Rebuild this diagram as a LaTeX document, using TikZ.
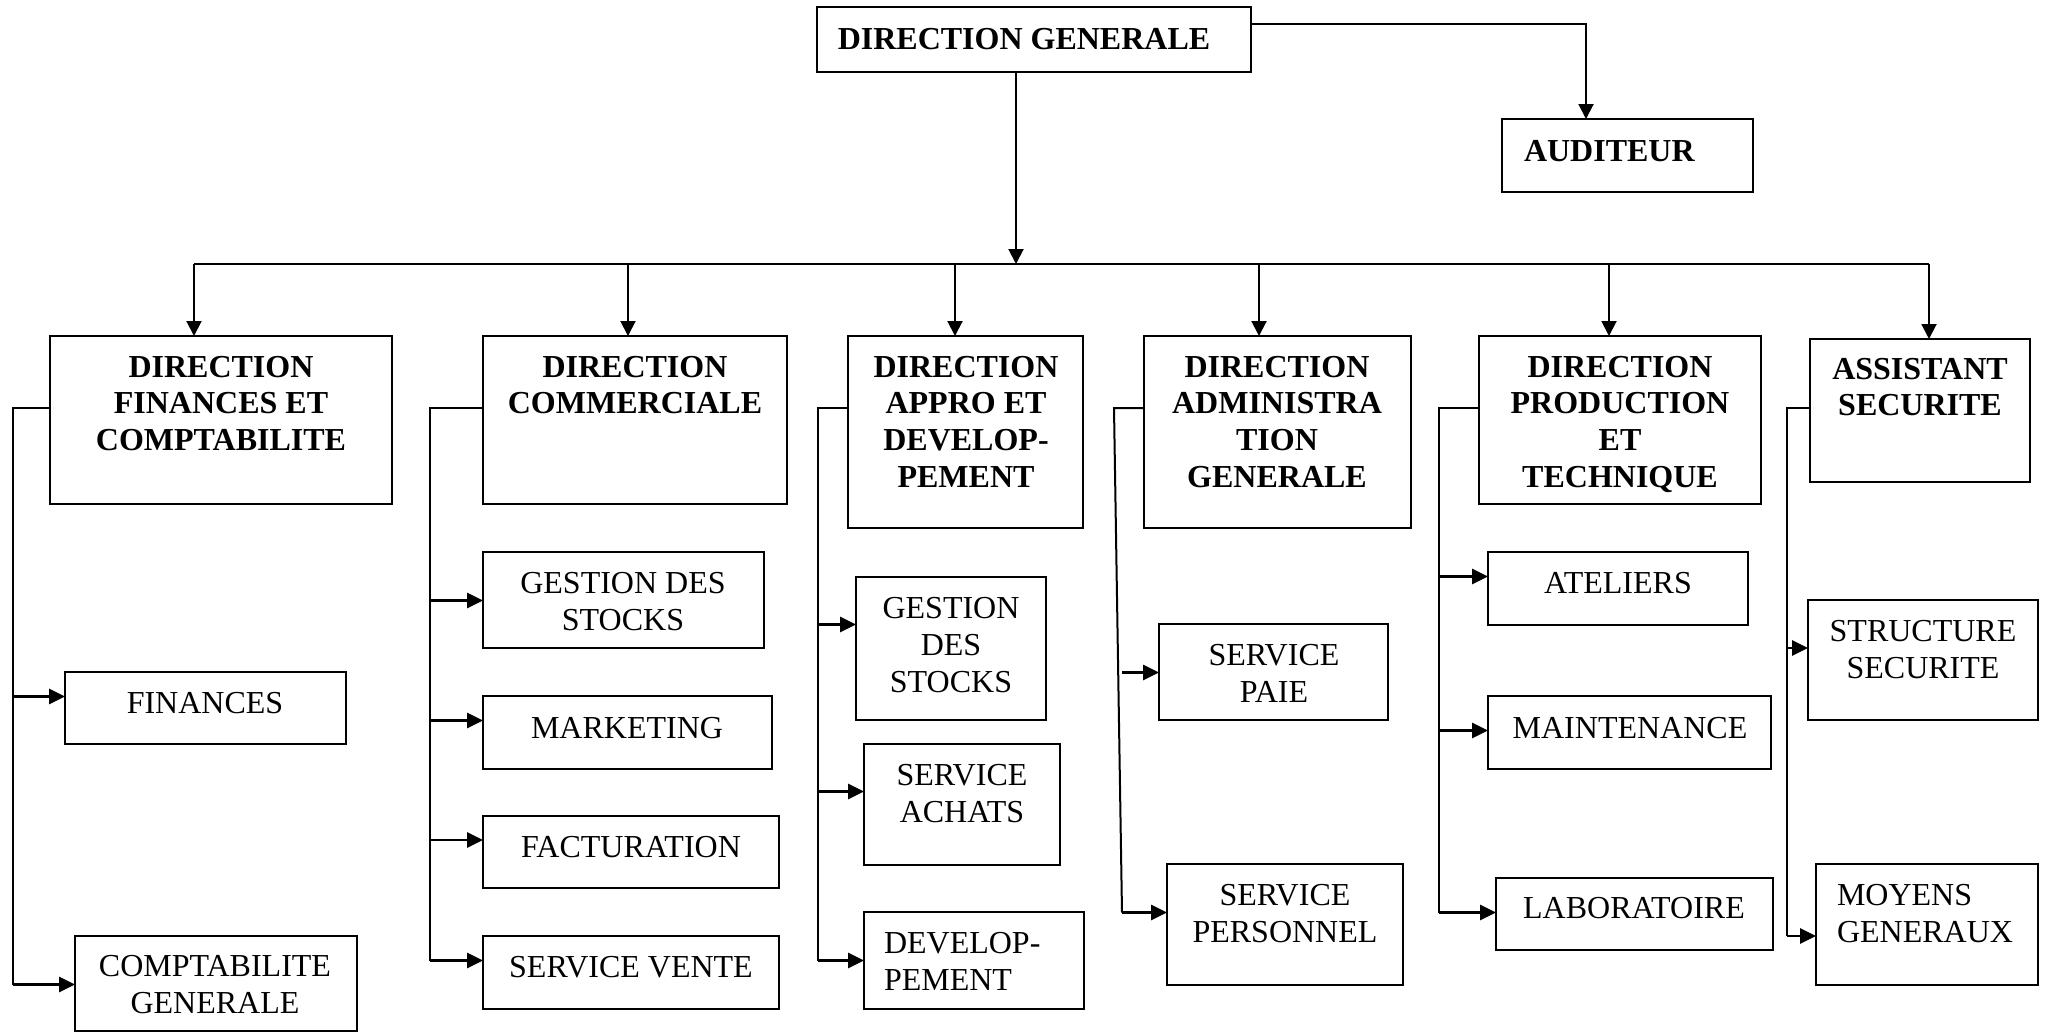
\documentclass[tikz,border=0pt]{standalone}
\usepackage{fontspec}
\setmainfont{Liberation Serif}
\usetikzlibrary{arrows.meta,calc}

\tikzset{
  unitbox/.style={draw, line width=1pt, inner sep=0pt, outer sep=0pt},
  lbl/.style={inner sep=0pt, outer sep=0pt, font=\fontsize{16}{18.6}\selectfont},
  hdr/.style={lbl, font=\fontsize{16}{18.35}\selectfont\bfseries},
  conn/.style={line width=1pt},
  tipped/.style={conn, -{Triangle[length=7.5pt,width=7.5pt]}},
  leafarr/.style={line width=1.4pt, -{Triangle[length=8pt,width=7.5pt]}},
}

% box from its corners (x1,y1)-(x2,y2), pixel-like units, y downwards
\newcommand\orgbox[5]{%
  \node[unitbox, minimum width={(#4-#2)*0.5pt}, minimum height={(#5-#3)*0.5pt}]
    (#1) at ({(#2+#4)/2},{(#3+#5)/2}) {};}
% arrow from a spine coordinate to the west side of a unit at height #3
\newcommand\feed[3]{%
  \coordinate (#2-y) at (0,#3);
  \draw[leafarr] (#1 |- #2-y) -- (#2.west |- #2-y);}

\begin{document}
\begin{tikzpicture}[x=0.5pt, y=-0.5pt]
\useasboundingbox (0,0) rectangle (2047,1033);

% ---------- top level ----------
\orgbox{dg}{817}{7}{1251}{72}
\node[hdr, anchor=north] (dg-t) at (1024,28) {DIRECTION GENERALE};
\orgbox{aud}{1502}{119}{1753}{192}
\node[hdr, anchor=north west] (aud-t) at (1524,140) {AUDITEUR};

% ---------- directions ----------
\orgbox{dfc}{50}{336}{392}{504}
\node[hdr, anchor=north, align=center] (dfc-t) at (221,356) {DIRECTION\\FINANCES ET\\COMPTABILITE};
\orgbox{dc}{483}{336}{787}{504}
\node[hdr, anchor=north, align=center] (dc-t) at (635,356) {DIRECTION\\COMMERCIALE};
\orgbox{dad}{848}{336}{1083}{528}
\node[hdr, anchor=north, align=center] (dad-t) at (966,356) {DIRECTION\\APPRO ET\\DEVELOP-\\PEMENT};
\orgbox{dag}{1144}{336}{1411}{528}
\node[hdr, anchor=north, align=center] (dag-t) at (1277,356) {DIRECTION\\ADMINISTRA\\TION\\GENERALE};
\orgbox{dpt}{1479}{336}{1761}{504}
\node[hdr, anchor=north, align=center] (dpt-t) at (1620,356) {DIRECTION\\PRODUCTION\\ET\\TECHNIQUE};
\orgbox{as}{1810}{339}{2030}{482}
\node[hdr, anchor=north, align=center] (as-t) at (1920,358) {ASSISTANT\\SECURITE};

% ---------- services ----------
\orgbox{fin}{65}{672}{346}{744}
\node[lbl, anchor=north] (fin-t) at (205,692) {FINANCES};
\orgbox{cg}{75}{936}{357}{1031}
\node[lbl, anchor=north, align=center] (cg-t) at (215,955.5) {COMPTABILITE\\GENERALE};

\orgbox{gds2}{483}{552}{764}{648}
\node[lbl, anchor=north, align=center] (gds2-t) at (623,572.5) {GESTION DES\\STOCKS};
\orgbox{mkt}{483}{696}{772}{768.5}
\node[lbl, anchor=north] (mkt-t) at (627,717) {MARKETING};
\orgbox{fac}{483}{816}{779}{888}
\node[lbl, anchor=north] (fac-t) at (631,836.5) {FACTURATION};
\orgbox{sv}{483}{936}{779}{1008.5}
\node[lbl, anchor=north] (sv-t) at (631,956.5) {SERVICE VENTE};

\orgbox{gds3}{856}{576.5}{1046}{720}
\node[lbl, anchor=north, align=center] (gds3-t) at (951,597) {GESTION\\DES\\STOCKS};
\orgbox{ach}{864}{743.5}{1060}{864.5}
\node[lbl, anchor=north, align=center] (ach-t) at (962,764.5) {SERVICE\\ACHATS};
\orgbox{dev}{864}{912}{1084}{1008.5}
\node[lbl, anchor=north west, align=left] (dev-t) at (884,932.5) {DEVELOP-\\PEMENT};

\orgbox{paie}{1159}{624}{1388}{720}
\node[lbl, anchor=north, align=center] (paie-t) at (1274,644.5) {SERVICE\\PAIE};
\orgbox{pers}{1167}{864}{1403}{984.5}
\node[lbl, anchor=north, align=center] (pers-t) at (1285,884) {SERVICE\\PERSONNEL};

\orgbox{ate}{1488}{552}{1748}{624.5}
\node[lbl, anchor=north] (ate-t) at (1618,572.5) {ATELIERS};
\orgbox{mnt}{1488}{696}{1771}{768.5}
\node[lbl, anchor=north] (mnt-t) at (1630,717) {MAINTENANCE};
\orgbox{lab}{1496}{877.5}{1773}{949.5}
\node[lbl, anchor=north] (lab-t) at (1634,897.5) {LABORATOIRE};

\orgbox{sts}{1808}{600}{2038}{720}
\node[lbl, anchor=north, align=center] (sts-t) at (1923,620.5) {STRUCTURE\\SECURITE};
\orgbox{mg}{1816}{864}{2038}{984.5}
\node[lbl, anchor=north west, align=left] (mg-t) at (1837,884) {MOYENS\\GENERAUX};

% ---------- top connectors ----------
\coordinate (audturn) at (1586,24);
\draw[tipped] (dg.east |- audturn) -- (audturn) -- (audturn |- aud.north);

\coordinate (hub) at (1016,264);
\draw[tipped] (dg.south -| hub) -- (hub);

\coordinate (d1) at (194,264);
\coordinate (d2) at (628,264);
\coordinate (d3) at (955,264);
\coordinate (d4) at (1259,264);
\coordinate (d5) at (1609,264);
\coordinate (d6) at (1929,264);
\draw[conn] (d1) -- (d6);
\draw[tipped] (d1) -- (d1 |- dfc.north);
\draw[tipped] (d2) -- (d2 |- dc.north);
\draw[tipped] (d3) -- (d3 |- dad.north);
\draw[tipped] (d4) -- (d4 |- dag.north);
\draw[tipped] (d5) -- (d5 |- dpt.north);
\draw[tipped] (d6) -- (d6 |- as.north);

% ---------- spines and feeds ----------
\coordinate (s1) at (13,408);
\feed{s1}{fin}{696.5}
\feed{s1}{cg}{984.5}
\draw[conn] (dfc.west |- s1) -- (s1) -- (s1 |- cg-y);

\coordinate (s2) at (430,408);
\feed{s2}{gds2}{600.5}
\feed{s2}{mkt}{720.5}
\feed{s2}{fac}{840}
\feed{s2}{sv}{960.5}
\draw[conn] (dc.west |- s2) -- (s2) -- (s2 |- sv-y);

\coordinate (s3) at (818,408);
\feed{s3}{gds3}{624.5}
\feed{s3}{ach}{791.5}
\feed{s3}{dev}{960.5}
\draw[conn] (dad.west |- s3) -- (s3) -- (s3 |- dev-y);

\coordinate (s4) at (1114,408);
\coordinate (s4b) at (1122,408);
\feed{s4b}{paie}{672.5}
\feed{s4b}{pers}{912.5}
\draw[conn] (dag.west |- s4) -- (s4) -- (s4b |- pers-y);

\coordinate (s5) at (1439,408);
\feed{s5}{ate}{576.5}
\feed{s5}{mnt}{730.5}
\feed{s5}{lab}{912.5}
\draw[conn] (dpt.west |- s5) -- (s5) -- (s5 |- lab-y);

\coordinate (s6) at (1787,408);
\feed{s6}{sts}{648}
\feed{s6}{mg}{936}
\draw[conn] (as.west |- s6) -- (s6) -- (s6 |- mg-y);

\end{tikzpicture}
\end{document}
